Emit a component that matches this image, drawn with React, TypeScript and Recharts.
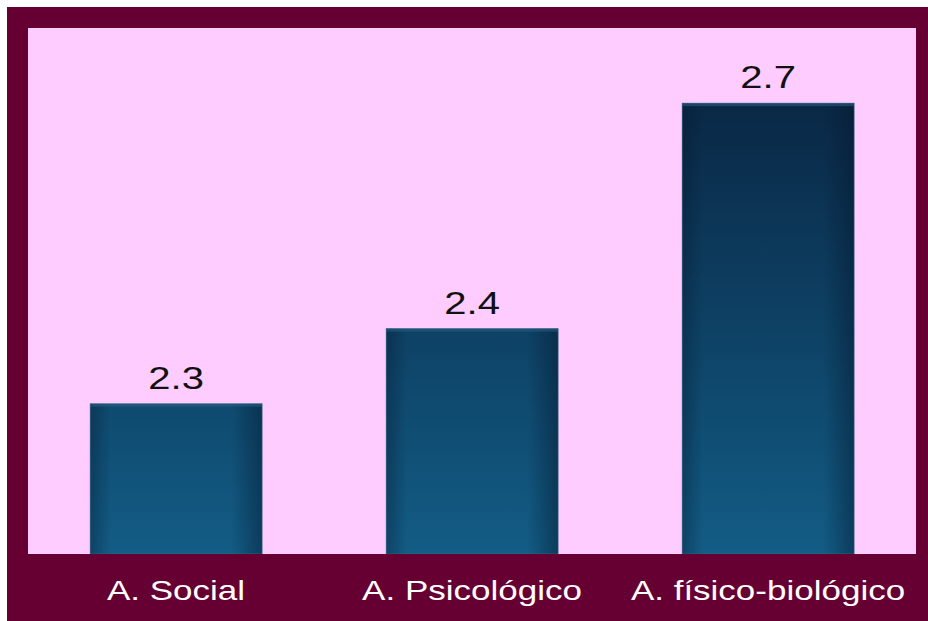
import React from 'react'
import { BarChart, Bar, XAxis, YAxis, CartesianGrid, LabelList } from 'recharts'

// Puntaje promedio por área
const categories = ['A. Social', 'A. Psicológico', 'A. físico-biológico']
const scores = [2.3, 2.4, 2.7]
const yDomain = [2.1, 2.8]

const data = categories.map((name, i) => ({ name, value: scores[i] }))

const MAROON = '#660033'
const PINK = '#ffccff'
const FONT = '"Liberation Sans", Arial, sans-serif'

// text in this layout is set a bit wide, so it gets a horizontal stretch
const STRETCH = 1.25

const AxisTick = (props: any) => {
  const { x, y, payload } = props
  return (
    <g transform={`translate(${x},${y + 46})`}>
      <text
        x={0}
        y={0}
        transform={`scale(${STRETCH},1)`}
        textAnchor="middle"
        fill="#ffffff"
        fontSize={28}
        fontFamily={FONT}
      >
        {payload.value}
      </text>
    </g>
  )
}

const ValueLabel = (props: any) => {
  const { x, y, width, value } = props
  return (
    <g transform={`translate(${x + width / 2},${y - 15})`}>
      <text
        x={0}
        y={0}
        transform={`scale(${STRETCH},1)`}
        textAnchor="middle"
        fill="#111111"
        fontSize={32}
        fontFamily={FONT}
      >
        {value}
      </text>
    </g>
  )
}

const ShadedBar = (props: any) => {
  const { x, y, width, height } = props
  return (
    <g>
      <rect x={x} y={y} width={width} height={height} fill="url(#barBody)" />
      <rect x={x} y={y} width={width} height={height} fill="url(#barEdges)" />
      <rect x={x} y={y} width={width} height={3} fill="#2a5a80" opacity={0.6} />
      <rect x={x} y={y} width={width} height={height} fill="none" stroke="#3d6f94" strokeOpacity={0.5} strokeWidth={1} />
    </g>
  )
}

export default function App() {
  return (
    <div style={{ position: 'absolute', left: 0, top: 0, width: 928, height: 621, background: '#ffffff' }}>
      <div style={{ position: 'absolute', left: 7, top: 7, width: 921, height: 614, background: MAROON }}>
        <BarChart
          width={921}
          height={614}
          data={data}
          margin={{ top: 21, right: 12, left: 21, bottom: 37 }}
          barCategoryGap="21%"
        >
          <defs>
            <linearGradient id="barBody" gradientUnits="userSpaceOnUse" x1="0" y1="96" x2="0" y2="547">
              <stop offset="0%" stopColor="#0a2846" />
              <stop offset="55%" stopColor="#0e4468" />
              <stop offset="100%" stopColor="#135c85" />
            </linearGradient>
            <linearGradient id="barEdges" x1="0" y1="0" x2="1" y2="0">
              <stop offset="0%" stopColor="#04162a" stopOpacity={0.35} />
              <stop offset="12%" stopColor="#04162a" stopOpacity={0} />
              <stop offset="82%" stopColor="#04162a" stopOpacity={0} />
              <stop offset="100%" stopColor="#04162a" stopOpacity={0.45} />
            </linearGradient>
          </defs>
          <CartesianGrid fill={PINK} stroke="none" horizontal={false} vertical={false} />
          <XAxis
            dataKey="name"
            height={30}
            axisLine={false}
            tickLine={false}
            tickSize={0}
            tickMargin={0}
            interval={0}
            tick={<AxisTick />}
          />
          <YAxis hide domain={yDomain} allowDataOverflow />
          <Bar dataKey="value" shape={<ShadedBar />} isAnimationActive={false}>
            <LabelList dataKey="value" content={<ValueLabel />} />
          </Bar>
        </BarChart>
      </div>
    </div>
  )
}
